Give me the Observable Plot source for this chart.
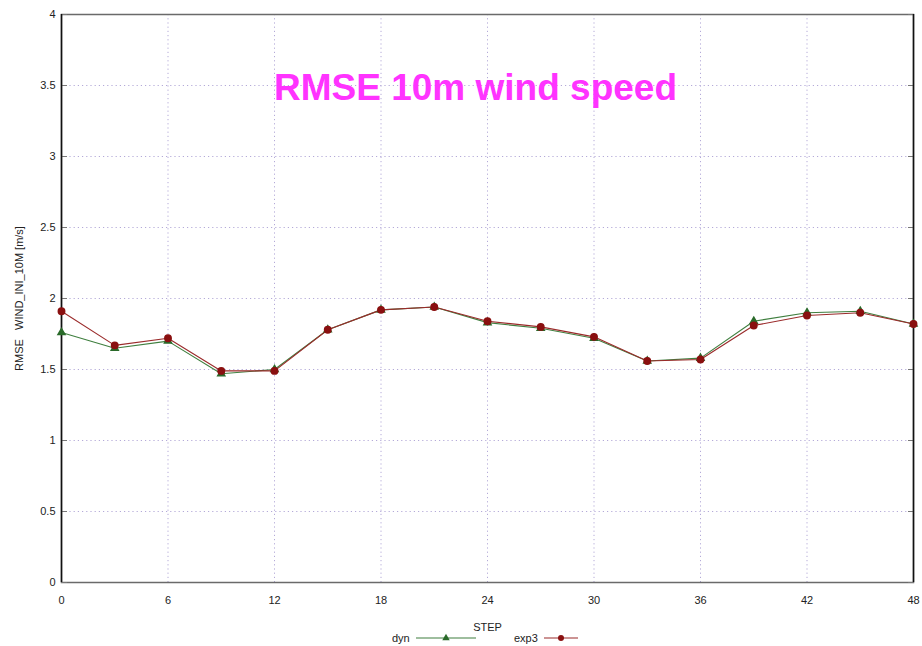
<!DOCTYPE html>
<html>
<head>
<meta charset="utf-8">
<script src="https://cdn.jsdelivr.net/npm/d3@7"></script>
<script src="https://cdn.jsdelivr.net/npm/@observablehq/plot@0.6"></script>
<style>
  html, body { margin: 0; padding: 0; background: #fff; overflow: hidden; }
  #legend { font-family: "Liberation Sans", Arial, sans-serif; font-size: 11px; color: #222; position: absolute; top: 631px; left: 0; width: 922px; height: 14px; }
  #legend .item { position: absolute; top: 0; display: flex; align-items: center; gap: 6px; line-height: 14px; }
</style>
</head>
<body>
<div id="chart"></div>
<div id="legend"></div>
<script>
const steps = [0, 3, 6, 9, 12, 15, 18, 21, 24, 27, 30, 33, 36, 39, 42, 45, 48];
const dyn  = [1.76, 1.65, 1.70, 1.47, 1.50, 1.78, 1.92, 1.94, 1.83, 1.79, 1.72, 1.56, 1.58, 1.84, 1.90, 1.91, 1.82];
const exp3 = [1.91, 1.67, 1.72, 1.49, 1.49, 1.78, 1.92, 1.94, 1.84, 1.80, 1.73, 1.56, 1.57, 1.81, 1.88, 1.90, 1.82];
const xTicks = [0, 6, 12, 18, 24, 30, 36, 42, 48];
const yTicks = [0, 0.5, 1, 1.5, 2, 2.5, 3, 3.5, 4];
const seriesNames = ["dyn", "exp3"];
const title = "RMSE 10m wind speed";
const yLabel = "RMSE\u00a0\u00a0\u00a0WIND_INI_10M [m/s]";
const xLabel = "STEP";

const colors = {dyn: "#3f7f3f", exp3: "#9a2a2a"};
const markColors = {dyn: "#2a6a2a", exp3: "#8a1010"};
const symbols = {dyn: "triangle", exp3: "circle"};

const rows = [];
steps.forEach((s, i) => {
  rows.push({step: s, value: dyn[i], series: "dyn"});
  rows.push({step: s, value: exp3[i], series: "exp3"});
});
const byS = name => rows.filter(d => d.series === name);

const font = "Liberation Sans, Arial, sans-serif";

const chart = Plot.plot({
  width: 922,
  height: 636,
  marginLeft: 61,
  marginRight: 9,
  marginTop: 14,
  marginBottom: 54,
  style: {fontFamily: font, fontSize: "11px", color: "#222", background: "#fff"},
  x: {domain: [0, 48], ticks: xTicks},
  y: {domain: [0, 4], ticks: yTicks},
  marks: [
    Plot.gridX(xTicks, {stroke: "#b4aad8", strokeOpacity: 1, strokeDasharray: "1.2,3"}),
    Plot.gridY(yTicks, {stroke: "#b4aad8", strokeOpacity: 1, strokeDasharray: "1.2,3"}),
    Plot.frame({stroke: "#6a6a6a", strokeWidth: 1.5}),
    Plot.axisY(yTicks, {anchor: "left", tickSize: 0, tickPadding: 6, label: yLabel, labelAnchor: "center", labelOffset: 46, labelArrow: "none", fontSize: 11, tickFormat: d => String(d)}),
    Plot.axisY(yTicks, {anchor: "left", tickSize: 6, dx: 6, tickFormat: () => "", label: null, stroke: "#777"}),
    Plot.axisY(yTicks, {anchor: "right", tickSize: 6, dx: -6, tickFormat: () => "", label: null, stroke: "#777"}),
    Plot.axisX(xTicks, {anchor: "bottom", tickSize: 0, tickPadding: 14, label: xLabel, labelAnchor: "center", labelOffset: 48, labelArrow: "none", fontSize: 11}),
    Plot.ruleX([0], {stroke: "#111", strokeWidth: 1.5}),
    Plot.ruleX([48], {stroke: "#111", strokeWidth: 1.5}),
    ...seriesNames.map(n => Plot.line(byS(n), {x: "step", y: "value", stroke: colors[n], strokeWidth: 1.1})),
    ...seriesNames.map(n => Plot.dot(byS(n), {x: "step", y: "value", fill: markColors[n], stroke: markColors[n], symbol: symbols[n], r: n === "exp3" ? 3.2 : 2.6})),
    Plot.text([title], {frameAnchor: "top", lineAnchor: "top", dy: 59, dx: -12, fill: "#ff33ff", fontSize: 37, fontWeight: "bold", fontFamily: font})
  ]
});
document.getElementById("chart").appendChild(chart);

// Legend
const legend = document.getElementById("legend");
const legendItems = [
  {name: "dyn", left: 392, w: 60},
  {name: "exp3", left: 514, w: 34}
];
legendItems.forEach(({name, left, w}) => {
  const item = document.createElement("div");
  item.className = "item";
  item.style.left = left + "px";
  const label = document.createElement("span");
  label.textContent = name;
  item.appendChild(label);
  const sw = d3.create("svg").attr("width", w).attr("height", 14);
  sw.append("line").attr("x1", 0).attr("x2", w).attr("y1", 7).attr("y2", 7).attr("stroke", colors[name]).attr("stroke-width", 1.1);
  if (name === "dyn") {
    sw.append("path").attr("d", d3.symbol(d3.symbolTriangle, 24)()).attr("transform", `translate(${w/2},7)`).attr("fill", markColors[name]);
  } else {
    sw.append("circle").attr("cx", w/2).attr("cy", 7).attr("r", 3).attr("fill", markColors[name]);
  }
  item.appendChild(sw.node());
  legend.appendChild(item);
});
</script>
</body>
</html>
